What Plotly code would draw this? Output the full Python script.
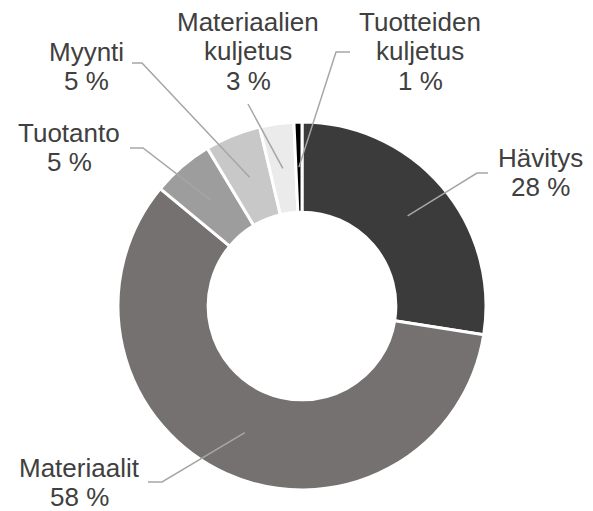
import math
import plotly.graph_objects as go

# ---- data ----
categories = ["Hävitys", "Materiaalit", "Tuotanto", "Myynti",
              "Materiaalien kuljetus", "Tuotteiden kuljetus"]
values = [27.5, 58.5, 5.4, 4.9, 3.0, 0.7]
pct_labels = ["28 %", "58 %", "5 %", "5 %", "3 %", "1 %"]
name_lines = [["Hävitys"], ["Materiaalit"], ["Tuotanto"], ["Myynti"],
              ["Materiaalien", "kuljetus"], ["Tuotteiden", "kuljetus"]]
colors = ["#3b3b3b", "#767171", "#9d9d9d", "#c8c8c8", "#ebebeb", "#000000"]

# ---- layout geometry (pixels) ----
W, H = 593, 511
CX, CY, R = 302, 306, 184
HOLE = 0.51
FS = 26
LINE_GAP = 29.5
TEXT_COLOR = "#404040"
LEADER_COLOR = "#a6a6a6"

# label anchor: centre x, baseline of first line; leader: elbow + end point
label_pos = {
    "Hävitys": (540, 167),
    "Materiaalit": (79, 477),
    "Tuotanto": (69, 142),
    "Myynti": (86, 61),
    "Materiaalien kuljetus": (248, 31),
    "Tuotteiden kuljetus": (420, 31),
}
leader_tail = {
    "Hävitys": [(477, 173), (488, 173)],
    "Materiaalit": [(162, 482), (148, 482)],
    "Tuotanto": [(143, 148), (130, 148)],
    "Myynti": [(142, 63), (132, 63)],
    "Materiaalien kuljetus": [(248, 104)],
    "Tuotteiden kuljetus": [(336, 52), (350, 52)],
}

def px(x):
    return x / W

def py(y):
    return 1 - y / H

fig = go.Figure()
fig.add_trace(go.Pie(
    labels=categories, values=values, sort=False, direction="clockwise",
    rotation=0, hole=HOLE, textinfo="none", hoverinfo="label+percent",
    marker=dict(colors=colors, line=dict(color="white", width=3)),
    domain=dict(x=[px(CX - R), px(CX + R)], y=[py(CY + R), py(CY - R)]),
    showlegend=False,
))

shapes = []
annotations = []
total = sum(values)
cum = 0.0
r_mid = R * (1 + HOLE) / 2
for cat, v, pct, lines in zip(categories, values, pct_labels, name_lines):
    mid = (cum + v / 2) / total * 2 * math.pi
    cum += v
    sx = CX + r_mid * math.sin(mid)
    sy = CY - r_mid * math.cos(mid)
    pts = [(sx, sy)] + leader_tail[cat]
    path = "M " + " L ".join(f"{px(x):.5f},{py(y):.5f}" for x, y in pts)
    shapes.append(dict(type="path", xref="paper", yref="paper", path=path,
                       line=dict(color=LEADER_COLOR, width=1.5), layer="above"))
    lx, ly = label_pos[cat]
    for i, t in enumerate(lines + [pct]):
        base = ly + i * LINE_GAP
        annotations.append(dict(
            x=px(lx), y=py(base - 0.35 * FS), xref="paper", yref="paper",
            text=t, showarrow=False, xanchor="center", yanchor="middle",
            font=dict(size=FS, color=TEXT_COLOR, family="Arial, Liberation Sans"),
        ))

fig.update_layout(
    width=W, height=H, margin=dict(l=0, r=0, t=0, b=0),
    paper_bgcolor="white", plot_bgcolor="white",
    shapes=shapes, annotations=annotations,
)
fig.write_html("out.html", config={"displayModeBar": False},
               post_script="document.body.style.margin='0';document.body.style.overflow='hidden';")
